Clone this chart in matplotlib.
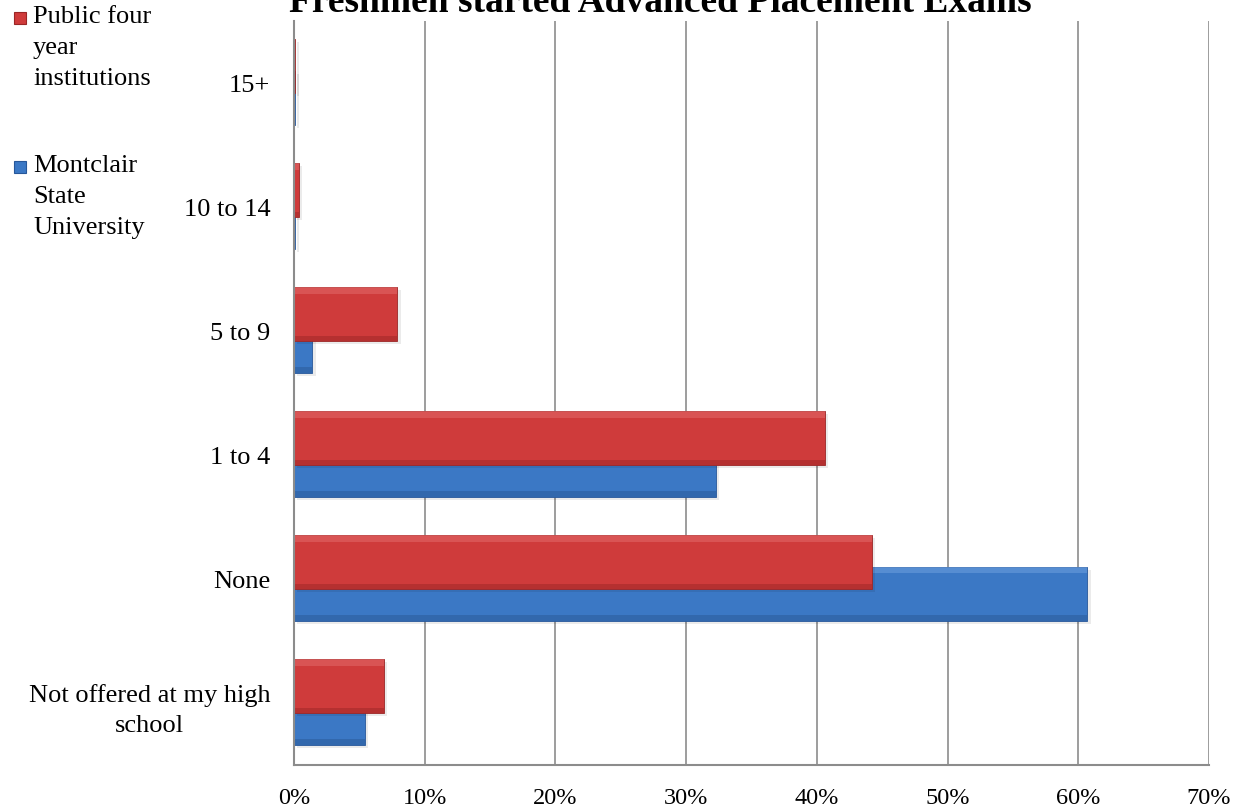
import matplotlib
matplotlib.use("Agg")
import matplotlib.pyplot as plt
from matplotlib.patches import Rectangle
import numpy as np

categories = ["Not offered at my high\nschool", "None", "1 to 4", "5 to 9", "10 to 14", "15+"]
public_four_year = [6.9, 44.2, 40.6, 7.9, 0.4, 0.1]
montclair = [5.4, 60.7, 32.3, 1.4, 0.1, 0.1]
series_labels = ["Public four\nyear\ninstitutions", "Montclair\nState\nUniversity"]
xticks = [0, 10, 20, 30, 40, 50, 60, 70]
xtick_labels = [f"{t}%" for t in xticks]
title = "Freshmen started Advanced Placement Exams"

plt.rcParams['font.family'] = ['Liberation Serif', 'DejaVu Serif']

RED = "#CF3B3B"
RED_EDGE = "#9A2626"
RED_LIGHT = "#E26A6A"
RED_DARK = "#A52A2A"
BLUE = "#3B78C5"
BLUE_EDGE = "#27579A"
BLUE_LIGHT = "#6E9FDD"
BLUE_DARK = "#2C5E9E"

fig = plt.figure(figsize=(12.44, 8.12), dpi=100)
ax = fig.add_axes([294/1244, 46/812, (1209-294)/1244, (766-22)/812])

y = np.arange(len(categories))
h = 0.435

def bevel_bars(ypos, vals, face, edge, light, dark, z):
    # soft shadow
    ax.barh(ypos - 0.025, vals, height=h, left=0.25, color='#000000', alpha=0.08,
            linewidth=0, zorder=z - 0.5)
    ax.barh(ypos, vals, height=h, color=face, edgecolor=edge, linewidth=0.6, zorder=z)
    # bevel: light top band, dark bottom band
    ax.barh(ypos + h/2 - h*0.06, vals, height=h*0.12, color=light, alpha=0.55,
            linewidth=0, zorder=z + 0.1)
    ax.barh(ypos - h/2 + h*0.05, vals, height=h*0.10, color=dark, alpha=0.6,
            linewidth=0, zorder=z + 0.1)

bevel_bars(y - 0.12, montclair, BLUE, BLUE_EDGE, BLUE_LIGHT, BLUE_DARK, 3)
bevel_bars(y + 0.135, public_four_year, RED, RED_EDGE, RED_LIGHT, RED_DARK, 5)

ax.set_xlim(0, 70)
ax.set_ylim(-0.5, len(categories) - 0.5)
ax.set_xticks(xticks)
ax.set_xticklabels(xtick_labels, fontsize=17.5)
ax.set_yticks(y)
ax.set_yticklabels(categories, fontsize=19, multialignment='center', linespacing=1.45)
ax.tick_params(axis='x', length=0, pad=16)
ax.tick_params(axis='y', length=0, pad=17)
ax.grid(axis='x', color='#8C8C8C', linewidth=1.2, zorder=0)
ax.set_axisbelow(True)
for s in ['top', 'right']:
    ax.spines[s].set_visible(False)
for s in ['left', 'bottom']:
    ax.spines[s].set_color('#8C8C8C')
    ax.spines[s].set_linewidth(1.5)
    ax.spines[s].set_zorder(8)

fig.text(660/1244, 1 - 12/812, title, ha='center', va='baseline', fontsize=27, fontweight='bold')

# manual legend
leg_colors = [RED, BLUE]
leg_edges = [RED_EDGE, BLUE_EDGE]
leg_marker_tops = [13, 162]
leg_text_tops = [6, 155]
for lab, c, e, mt, tt in zip(series_labels, leg_colors, leg_edges, leg_marker_tops, leg_text_tops):
    fig.patches.append(Rectangle((14/1244, 1 - (mt + 12)/812), 12/1244, 12/812,
                                 transform=fig.transFigure, facecolor=c, edgecolor=e, linewidth=0.8))
    fig.text(33/1244, 1 - tt/812, lab, ha='left', va='top', fontsize=19, linespacing=1.54)

fig.savefig("out.png", dpi=100)
